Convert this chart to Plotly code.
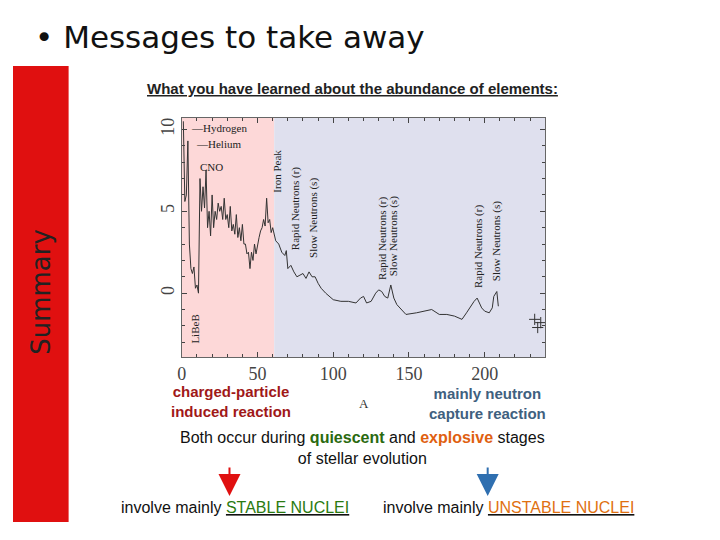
import plotly.graph_objects as go

# mass number A vs log abundance
mass_a = [1, 2, 3, 4, 5, 6, 7, 8, 9, 10, 11, 12, 13, 14, 15, 16, 17, 18, 19, 20, 21, 22, 23, 24, 25, 26,
          27, 28, 29, 30, 31, 32, 33, 34, 35, 36, 37, 38, 39, 40, 41, 42, 43, 44, 45, 46, 47, 48, 49, 50,
          51, 52, 53, 54, 55, 56, 57, 58, 59, 60, 62, 64, 66, 68, 69, 70, 72, 74, 76, 78, 80, 82, 84, 86,
          88, 90, 92, 95, 100, 105, 110, 115, 118, 120, 122, 125, 128, 130, 132, 134, 136, 138, 140, 142,
          145, 148, 155, 160, 165, 170, 175, 180, 185, 188, 190, 193, 195, 198, 200, 203, 205, 206, 208, 209]
log_abund = [10.5, 5.6, 6.0, 9.3, 3.0, 1.5, 1.2, 1.6, 0.3, 0.5, 0.0, 7.0, 5.0, 6.5, 5.2, 7.5, 4.0, 5.0,
             3.5, 6.0, 4.0, 5.0, 4.5, 5.5, 5.0, 5.3, 4.5, 5.8, 4.5, 4.8, 4.0, 5.3, 3.8, 4.2, 3.6, 4.8, 3.4,
             4.0, 3.2, 4.2, 3.0, 3.0, 2.4, 2.5, 1.5, 2.5, 2.0, 3.0, 2.4, 3.0, 3.4, 3.8, 4.0, 4.5, 4.1, 5.8,
             4.3, 4.5, 3.7, 4.0, 3.2, 3.0, 2.5, 2.3, 2.6, 1.5, 1.7, 1.3, 1.0, 1.1, 1.2, 0.9, 1.3, 1.0, 1.0,
             0.6, 0.3, 0.0, -0.4, -0.5, -0.5, -0.6, -0.3, -0.2, -0.6, -0.5, 0.0, 0.2, 0.1, -0.2, -0.3, 0.5,
             -0.3, -0.7, -1.0, -1.3, -1.2, -1.1, -1.0, -1.3, -1.3, -1.4, -1.6, -1.2, -0.9, -0.5, -0.3,
             -0.9, -1.1, -1.2, -0.9, -0.2, 0.1, -0.8]
cross_a = [233, 235, 237]
cross_y = [-1.6, -2.1, -1.8]

# peak labels: (A, y, text)
peak_labels = [(63, 6.0, "Iron Peak"), (75, 2.5, "Rapid Neutrons (r)"), (87, 2.0, "Slow Neutrons (s)"),
               (132, 0.7, "Rapid Neutrons (r)"), (140, 0.9, "Slow Neutrons (s)"),
               (196, 0.2, "Rapid Neutrons (r)"), (208, 0.6, "Slow Neutrons (s)")]

W, H = 720, 540
DX, DY = -10, -8  # page offset correction
X0, X1, Y0, Y1 = 180 + DX, 546 + DX, 118 + DY, 357 + DY


def px_x(v):
    return (v + DX) / W


def px_y(v):
    return 1 - (v + DY) / H


fig = go.Figure()
fig.add_trace(go.Scatter(x=mass_a, y=log_abund, mode="lines", line=dict(color="#333", width=1)))
fig.add_trace(go.Scatter(x=cross_a, y=cross_y, mode="markers",
                         marker=dict(symbol="cross-thin", size=8, line=dict(color="#333", width=1))))

serif = dict(family="Liberation Serif", size=11, color="#222")
for a, y, t in peak_labels:
    fig.add_annotation(x=a, y=y, text=t, textangle=-90, showarrow=False, yanchor="bottom", font=serif)
fig.add_annotation(x=5, y=10.1, text="—Hydrogen", showarrow=False, xanchor="left", font=serif)
fig.add_annotation(x=8, y=9.1, text="—Helium", showarrow=False, xanchor="left", font=serif)
fig.add_annotation(x=11, y=7.7, text="CNO", showarrow=False, xanchor="left", font=serif)
fig.add_annotation(x=9, y=-2.2, text="LiBeB", textangle=-90, showarrow=False, font=serif)

fig.add_vrect(x0=0, x1=61, fillcolor="#fdd8d8", line_width=0, layer="below")
fig.add_vrect(x0=61, x1=240, fillcolor="#dfe0ee", line_width=0, layer="below")

# slide decoration
fig.add_shape(type="rect", xref="paper", yref="paper", x0=px_x(10), x1=px_x(66), y0=px_y(522), y1=px_y(66),
              fillcolor="#e01010", line_width=0)
for xa, col in [(228, "#e01010"), (488, "#2f6fb0")]:
    fig.add_annotation(xref="paper", yref="paper", x=px_x(xa), y=px_y(496), ax=0, ay=-30,
                       showarrow=True, arrowhead=2, arrowsize=2.2,
                       arrowwidth=2, arrowcolor=col, text="")

sans = "Liberation Sans"
texts = [
    (30, 37, "• Messages to take away", 31, "#111", "DejaVu Sans", 0, "left"),
    (38, 292, "Summary", 26, "#222", "DejaVu Sans", -90, "center"),
    (352, 88, "<u><b>What you have learned about the abundance of elements:</b></u>", 15, "#222", sans, 0, "center"),
    (167, 401, "<b>charged-particle<br>induced reaction</b>", 15, "#a01818", sans, 0, "left"),
    (427, 403, "<b>mainly neutron<br>capture reaction</b>", 15, "#40607e", sans, 0, "left"),
    (363, 403, "A", 13, "#333", "Liberation Serif", 0, "center"),
    (362, 448, "Both occur during <b><span style='color:#2a6a10'>quiescent</span></b> and "
               "<b><span style='color:#e06010'>explosive</span></b> stages<br>of stellar evolution",
     16, "#111", sans, 0, "center"),
    (117, 507, "involve mainly <u><span style='color:#2a7a10'>STABLE NUCLEI</span></u>", 16, "#111", sans, 0, "left"),
    (381, 507, "involve mainly <u><span style='color:#e07010'>UNSTABLE NUCLEI</span></u>", 16, "#111", sans, 0, "left"),
]
for x, y, t, s, c, f, ang, anchor in texts:
    fig.add_annotation(xref="paper", yref="paper", x=px_x(x), y=px_y(y), text=t, showarrow=False,
                       xanchor=anchor, yanchor="middle", textangle=ang, align="center",
                       font=dict(size=s, color=c, family=f))

tick_font = dict(family="Liberation Serif", size=18, color="#444")
fig.update_layout(
    width=W, height=H, margin=dict(l=0, r=0, t=0, b=0), showlegend=False,
    paper_bgcolor="white", plot_bgcolor="white",
    xaxis=dict(domain=[X0 / W, X1 / W], range=[0, 240], tickvals=[0, 50, 100, 150, 200],
               ticks="inside", ticklen=5, showgrid=False, zeroline=False, tickfont=tick_font,
               showline=True, linecolor="#666", mirror="ticks", minor=dict(dtick=10, ticks="inside", ticklen=3)),
    yaxis=dict(domain=[1 - Y1 / H, 1 - Y0 / H], range=[-3.9, 10.7], tickvals=[0, 5, 10],
               tickangle=-90, ticks="inside", ticklen=5, showgrid=False, zeroline=False, tickfont=tick_font,
               showline=True, linecolor="#666", mirror="ticks", minor=dict(dtick=1, ticks="inside", ticklen=3)),
)
fig.write_html("out.html")
